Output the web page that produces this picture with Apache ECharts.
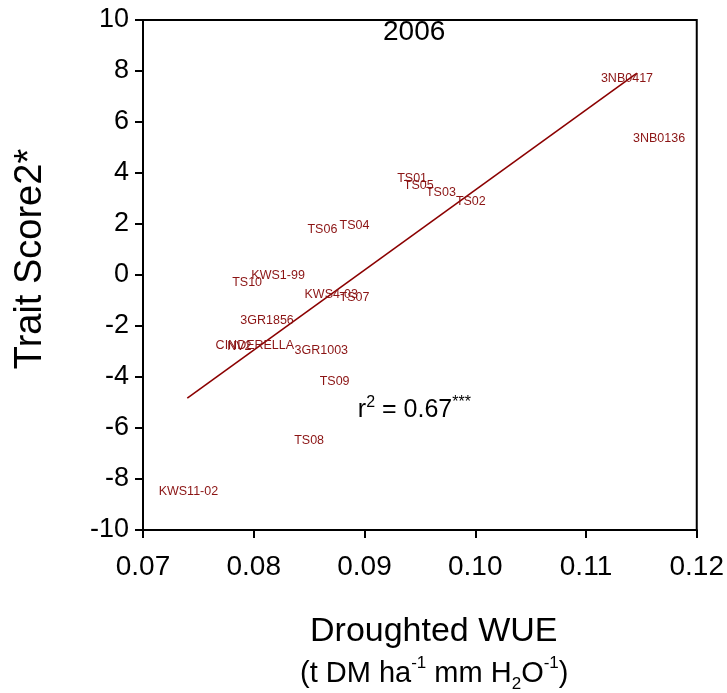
<!DOCTYPE html>
<html>
<head>
<meta charset="utf-8">
<script src="https://cdn.jsdelivr.net/npm/echarts@6/dist/echarts.min.js"></script>
<style>
html,body{margin:0;padding:0;background:#fff;}
#chart{width:727px;height:693px;}
</style>
</head>
<body>
<div id="chart"></div>
<script>
// Genotype labels and their values
var names = ['3NB0417','3NB0136','TS01','TS05','TS03','TS02','TS04','TS06','KWS1-99','TS10','KWS4-03','TS07','3GR1856','CINDERELLA','NV2','3GR1003','TS09','TS08','KWS11-02'];
var wue   = [0.1137,0.1166,0.0943,0.0949,0.0969,0.0996,0.0891,0.0862,0.0822,0.0794,0.0870,0.0891,0.0812,0.0801,0.0787,0.0861,0.0873,0.0850,0.0741];
var score = [7.69,5.37,3.80,3.49,3.25,2.90,1.92,1.80,-0.04,-0.31,-0.75,-0.90,-1.80,-2.78,-2.82,-2.98,-4.16,-6.51,-8.51];
// Regression line end points
var fitX = [0.0740,0.1146];
var fitY = [-4.83,7.92];
// Annotation position (data coords)
var r2Pos = [0.0945,-5.30];

var FONT = '"Liberation Sans", Arial, sans-serif';
var pts = names.map(function(n,i){ return {name:n, value:[wue[i],score[i]]}; });
var fit = fitX.map(function(x,i){ return [x,fitY[i]]; });

var chart = echarts.init(document.getElementById('chart'));
chart.setOption({
  animation:false,
  backgroundColor:'#fff',
  title:{
    text:'2006', left:378, top:13,
    textStyle:{fontFamily:FONT,fontSize:28,fontWeight:'normal',color:'#000'}
  },
  grid:{left:143,right:29,top:20,bottom:163,show:true,borderColor:'#000',borderWidth:2,backgroundColor:'transparent'},
  xAxis:{
    type:'value',min:0.07,max:0.12,interval:0.01,
    axisLine:{onZero:false,lineStyle:{color:'#000',width:2}},
    axisTick:{show:true,length:8,lineStyle:{color:'#000',width:2}},
    splitLine:{show:false},
    axisLabel:{margin:23,fontFamily:FONT,fontSize:28,color:'#000',
      formatter:function(v){return v.toFixed(2);},showMaxLabel:true,showMinLabel:true}
  },
  yAxis:{
    type:'value',min:-10,max:10,interval:2,
    axisLine:{onZero:false,lineStyle:{color:'#000',width:2}},
    axisTick:{show:true,length:8,lineStyle:{color:'#000',width:2}},
    splitLine:{show:false},
    axisLabel:{margin:14,fontFamily:FONT,fontSize:27,color:'#000'}
  },
  graphic:[
    {type:'text',x:31,y:259,rotation:Math.PI/2,
     style:{text:'Trait Score2*',font:'38px '+FONT,fill:'#000',textAlign:'center',textVerticalAlign:'middle'}},
    {type:'text',left:310,top:615,style:{text:'Droughted WUE',font:'34px '+FONT,fill:'#000'}},
    {type:'text',left:300,top:655,style:{
      text:'{n|(t DM ha}{sup|-1}{n| mm H}{sub|2}{n|O}{sup|-1}{n|)}',
      rich:{
        n:{fontFamily:FONT,fontSize:29,color:'#000',lineHeight:38,verticalAlign:'middle'},
        sup:{fontFamily:FONT,fontSize:17,color:'#000',lineHeight:38,verticalAlign:'top'},
        sub:{fontFamily:FONT,fontSize:17,color:'#000',lineHeight:38,verticalAlign:'bottom'}
      }
    }}
  ],
  series:[
    {
      type:'line',data:fit,symbol:'none',silent:true,
      lineStyle:{color:'#8b0000',width:1.6},z:2
    },
    {
      type:'scatter',data:pts,symbolSize:0,z:3,itemStyle:{opacity:1},
      label:{show:true,position:'inside',formatter:'{b}',fontFamily:FONT,fontSize:12.5,color:'#8b1414',opacity:1}
    },
    {
      type:'scatter',data:[{name:'r2',value:r2Pos}],symbolSize:0,z:3,itemStyle:{opacity:1},
      label:{show:true,position:'inside',opacity:1,
        formatter:'{n|r}{sup|2}{n| = 0.67}{sup|***}',
        rich:{
          n:{fontFamily:FONT,fontSize:25,color:'#000',lineHeight:32,verticalAlign:'middle'},
          sup:{fontFamily:FONT,fontSize:16,color:'#000',lineHeight:32,verticalAlign:'top'}
        }
      }
    }
  ]
});
</script>
</body>
</html>
